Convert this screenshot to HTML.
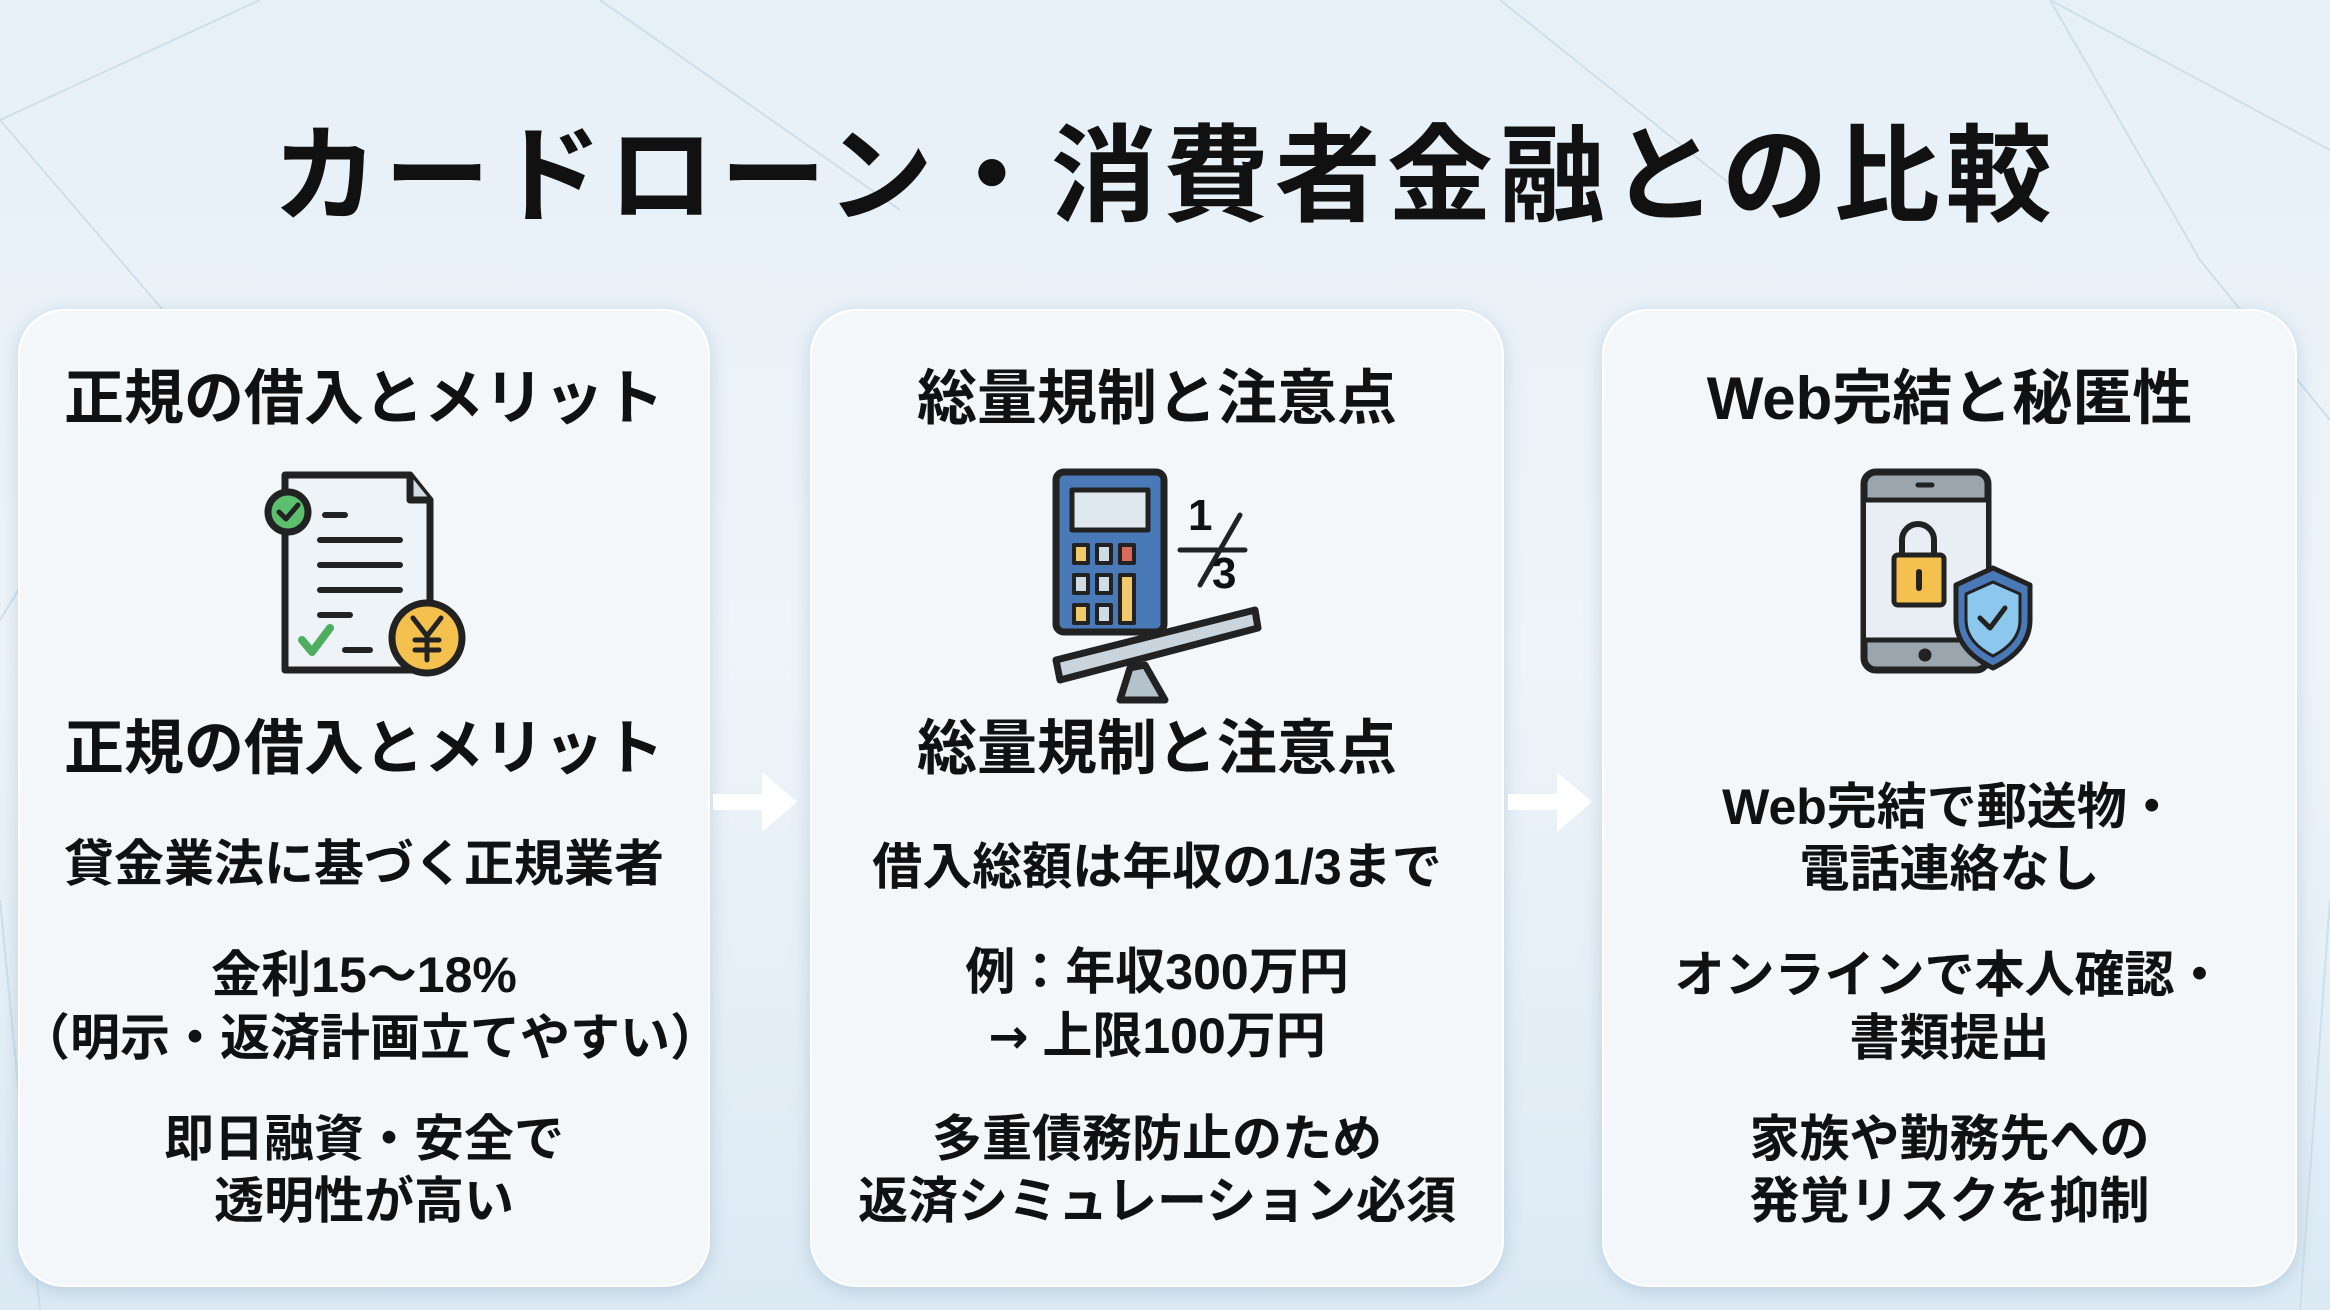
<!DOCTYPE html>
<html><head><meta charset="utf-8"><style>
*{margin:0;padding:0;box-sizing:border-box}
body{width:2330px;height:1310px;overflow:hidden;position:relative;background:linear-gradient(180deg,#e6f0f7 0%,#eef4f9 50%,#dceaf4 100%);font-family:"Liberation Sans","Noto Sans CJK JP",sans-serif;font-weight:bold;color:#111}
.t{position:absolute;left:0;width:100%;text-align:center;white-space:nowrap}
.card{position:absolute;top:309px;height:978px;border-radius:46px;background:#f3f7fa;box-shadow:0 4px 18px rgba(80,120,160,.25);border:2px solid #fff}
.card .t{font-size:50px;line-height:63px}
.h{font-size:60px!important}
svg{position:absolute;left:0;top:0}
</style></head><body>
<svg width="2330" height="1310" stroke="#cddfec" stroke-width="2" fill="none">
<path d="M0 120 L260 0 M0 120 L180 330 M180 330 L0 620 M2330 150 L2050 0 M2050 0 L2200 260 M2200 260 L2330 420 M600 0 L900 210 M1500 0 L1750 200 M0 900 L40 1310 M2330 900 L2300 1310"/>
</svg>
<div class="t" style="top:112px;font-size:106px;line-height:130px;letter-spacing:6px">カードローン・消費者金融との比較</div>

<div class="card" style="left:18px;width:692px">
<div class="t h" style="top:56px">正規の借入とメリット</div>
<div class="t h" style="top:406px">正規の借入とメリット</div>
<div class="t" style="top:522px">貸金業法に基づく正規業者</div>
<div class="t" style="top:633px">金利15～18%</div>
<div class="t" style="top:696px">（明示・返済計画立てやすい）</div>
<div class="t" style="top:797px">即日融資・安全で</div>
<div class="t" style="top:859px">透明性が高い</div>
</div>
<div class="card" style="left:810px;width:694px">
<div class="t h" style="top:56px">総量規制と注意点</div>
<div class="t h" style="top:406px">総量規制と注意点</div>
<div class="t" style="top:525px">借入総額は年収の1/3まで</div>
<div class="t" style="top:630px">例：年収300万円</div>
<div class="t" style="top:694px"><span style="font-family:'DejaVu Sans',sans-serif;font-size:48px">→</span> 上限100万円</div>
<div class="t" style="top:797px">多重債務防止のため</div>
<div class="t" style="top:859px">返済シミュレーション必須</div>
</div>
<div class="card" style="left:1602px;width:695px">
<div class="t h" style="top:56px">Web完結と秘匿性</div>
<div class="t" style="top:465px">Web完結で郵送物・</div>
<div class="t" style="top:527px">電話連絡なし</div>
<div class="t" style="top:633px">オンラインで本人確認・</div>
<div class="t" style="top:696px">書類提出</div>
<div class="t" style="top:797px">家族や勤務先への</div>
<div class="t" style="top:859px">発覚リスクを抑制</div>
</div>

<svg width="2330" height="1310" stroke="#222" stroke-width="7" stroke-linejoin="round" stroke-linecap="round">
<g fill="#fff" stroke="none">
<path d="M713 794 H762 V772 L797 802 L762 832 V810 H713Z"/>
<path d="M1508 794 H1557 V772 L1592 802 L1557 832 V810 H1508Z"/>
</g>
<path d="M285 475 H410 L430 500 V670 H285Z" fill="#eef3f7"/>
<path d="M410 475 V500 H430" fill="#cfdbe5"/>
<g stroke-width="6"><path d="M325 515 H345 M320 540 H400 M320 565 H400 M320 590 H400 M320 615 H350 M345 650 H370"/></g>
<circle cx="288" cy="512" r="20" fill="#5cbf6e"/><path d="M279 512 l7 7 l12 -14" stroke-width="5" fill="none"/>
<path d="M302 640 l10 12 l18 -24" stroke="#4cae5e" stroke-width="8" fill="none"/>
<circle cx="427" cy="638" r="35" fill="#f4c04e"/>
<path d="M413 618 L427 636 L441 618 M427 636 V660 M415 640 H439 M415 650 H439" stroke-width="5" fill="none"/>
<rect x="1056" y="472" width="108" height="160" rx="8" fill="#4a79b8"/>
<rect x="1072" y="490" width="76" height="40" fill="#dfe8ef" stroke-width="5"/>
<g stroke-width="4" fill="#cfdbe5">
<rect x="1074" y="545" width="14" height="18" fill="#f0c96b"/><rect x="1097" y="545" width="14" height="18"/><rect x="1120" y="545" width="14" height="18" fill="#d86b5c"/>
<rect x="1074" y="575" width="14" height="18"/><rect x="1097" y="575" width="14" height="18"/><rect x="1120" y="575" width="14" height="48" fill="#f0c96b"/>
<rect x="1074" y="605" width="14" height="18" fill="#f0c96b"/><rect x="1097" y="605" width="14" height="18"/>
</g>
<path d="M1056 660 L1255 610 L1258 628 L1060 680Z" fill="#c9d4dc"/>
<path d="M1145 665 L1130 668 L1120 700 L1165 700Z" fill="#b4c3cc"/>
<text x="1188" y="530" font-size="44" font-family="Liberation Sans" fill="#111" stroke="none">1</text>
<path d="M1200 585 L1240 515 M1180 550 H1245" stroke-width="5"/>
<text x="1212" y="588" font-size="44" font-family="Liberation Sans" fill="#111" stroke="none">3</text>
<rect x="1864" y="472" width="124" height="198" rx="12" fill="#9aa5ae"/>
<rect x="1866" y="500" width="120" height="140" fill="#e8eef3" stroke="none"/>
<path d="M1866 500 H1986 M1866 640 H1986" stroke-width="5"/>
<path d="M1918 485 H1932" stroke-width="5"/><circle cx="1925" cy="655" r="5" fill="#222" stroke-width="3"/>
<path d="M1902 555 V540 a16 16 0 0 1 32 0 V555" fill="none" stroke-width="6"/>
<rect x="1894" y="555" width="50" height="50" rx="4" fill="#f4c04e" stroke-width="5"/>
<path d="M1919 572 v16" stroke-width="6"/>
<path d="M1993 568 L2030 585 V620 Q2030 650 1993 668 Q1956 650 1956 620 V585Z" fill="#4a79b8" stroke-width="5"/>
<path d="M1993 582 L2020 594 V620 Q2020 642 1993 656 Q1966 642 1966 620 V594Z" fill="#8cc7ee" stroke-width="3"/>
<path d="M1980 618 l10 10 l15 -20" stroke-width="5" fill="none"/>
</svg>
</body></html>
